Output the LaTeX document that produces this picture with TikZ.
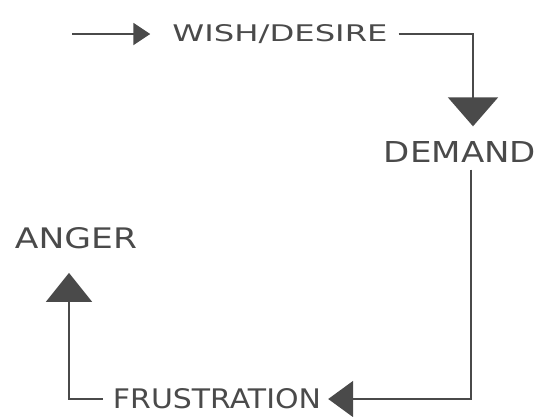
\documentclass[tikz,border=0pt]{standalone}
\usepackage{fontspec}
\setmainfont{DejaVu Sans}
\usetikzlibrary{arrows.meta}
\definecolor{ink}{HTML}{4A4A4A}
\newcommand\fitbox[3]{\resizebox{#1}{#2}{#3}}
\begin{document}
\begin{tikzpicture}[x=1pt,y=-1pt,
  lbl/.style={inner sep=0pt,text=ink,anchor=center},
  flow/.style={draw=ink,line width=2pt,line join=miter},
  tipS/.style={-{Triangle[width=22pt,length=17pt]}},
  tipD/.style={-{Triangle[width=50pt,length=29pt]}},
  tipL/.style={-{Triangle[width=36pt,length=25pt]}},
  tipU/.style={-{Triangle[width=46pt,length=29pt]}}]
\useasboundingbox (0,0) rectangle (538,416);
\node[lbl] (wish) at (280,34) {\fitbox{215pt}{17pt}{WISH/DESIRE}};
\node[lbl] (demand) at (460,152) {\fitbox{152pt}{21pt}{DEMAND}};
\node[lbl] (frus) at (217,399) {\fitbox{208pt}{20pt}{FRUSTRATION}};
\node[lbl] (anger) at (76,238) {\fitbox{122pt}{21pt}{ANGER}};
\coordinate (start) at (72,34);
\draw[flow,tipS,shorten >=22pt] (start) -- (wish.west);
\draw[flow,tipD,shorten <=11pt,shorten >=15pt] (wish.east) -| ([xshift=13pt]demand.north);
\draw[flow,tipL,shorten <=7pt,shorten >=7pt] ([xshift=11pt]demand.south) |- (frus.east);
\draw[flow,tipU,shorten <=10pt,shorten >=24pt] (frus.west) -| ([xshift=-7pt]anger.south);
\end{tikzpicture}
\end{document}
